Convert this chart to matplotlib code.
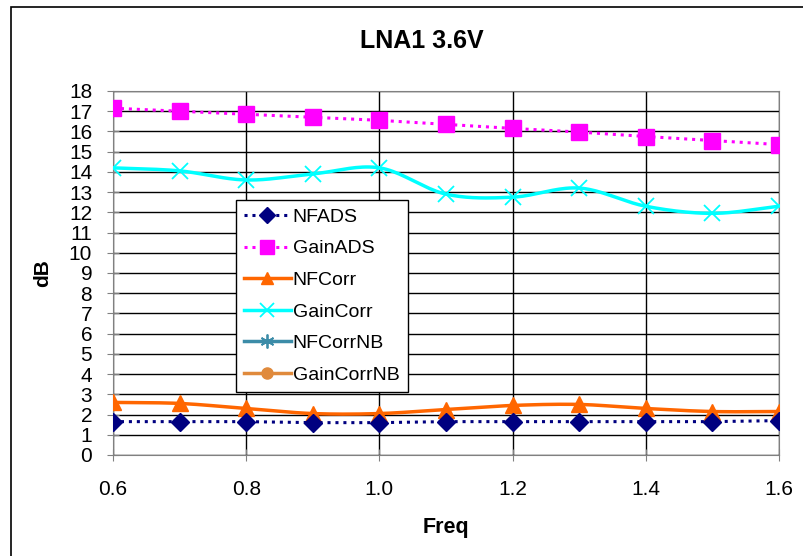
import numpy as np
import matplotlib
matplotlib.use("Agg")
import matplotlib.pyplot as plt
from matplotlib.patches import Rectangle

plt.rcParams['font.family'] = ['Liberation Sans', 'DejaVu Sans']

freq = [0.6, 0.7, 0.8, 0.9, 1.0, 1.1, 1.2, 1.3, 1.4, 1.5, 1.6]
nf_ads = [1.65, 1.65, 1.65, 1.6, 1.6, 1.65, 1.65, 1.65, 1.65, 1.65, 1.7]
gain_ads = [17.15, 17.0, 16.85, 16.7, 16.55, 16.35, 16.15, 15.97, 15.75, 15.55, 15.35]
nf_corr = [2.6, 2.55, 2.3, 2.05, 2.05, 2.25, 2.45, 2.5, 2.3, 2.15, 2.15]
gain_corr = [14.2, 14.05, 13.6, 13.9, 14.2, 12.9, 12.75, 13.2, 12.3, 11.95, 12.3]
xticks = [0.6, 0.8, 1.0, 1.2, 1.4, 1.6]
xticklabels = ["0.6", "0.8", "1.0", "1.2", "1.4", "1.6"]
yticks = list(range(0, 19))


def smooth(x, y, n=20):
    # Catmull-Rom rendering of the line through the data points (Excel-like smoothing)
    x = np.asarray(x, float); y = np.asarray(y, float)
    px = np.concatenate([[2 * x[0] - x[1]], x, [2 * x[-1] - x[-2]]])
    py = np.concatenate([[2 * y[0] - y[1]], y, [2 * y[-1] - y[-2]]])
    xs, ys = [], []
    t = np.linspace(0, 1, n, endpoint=False)
    for i in range(1, len(px) - 2):
        for P, out in ((px, xs), (py, ys)):
            p0, p1, p2, p3 = P[i - 1], P[i], P[i + 1], P[i + 2]
            out.extend(0.5 * ((2 * p1) + (-p0 + p2) * t + (2 * p0 - 5 * p1 + 4 * p2 - p3) * t ** 2
                              + (-p0 + 3 * p1 - 3 * p2 + p3) * t ** 3))
    xs.append(x[-1]); ys.append(y[-1])
    return np.array(xs), np.array(ys)


fig = plt.figure(figsize=(8.04, 5.56), dpi=100)
fig.patches.append(Rectangle((11 / 804, -0.1), 1.2, 1 - 7 / 556 + 0.1, transform=fig.transFigure,
                             fill=False, edgecolor='black', linewidth=1.2))
L, R, T, B = 113, 779, 91, 455
ax = fig.add_axes([L / 804, 1 - B / 556, (R - L) / 804, (B - T) / 556])

navy = '#000080'
mag = '#FF00FF'
orange = '#FF6600'
cyan = '#00FFFF'
teal = '#3C8CA8'
lorange = '#E08A3C'

ax.plot(freq, nf_ads, color=navy, linestyle=(0, (1, 1.6)), linewidth=2.2, marker='D',
        markersize=9, markerfacecolor=navy, markeredgecolor=navy, zorder=5)
ax.plot(freq, gain_ads, color=mag, linestyle=(0, (1, 1.6)), linewidth=2.2, marker='s',
        markersize=12, markerfacecolor=mag, markeredgecolor=mag, zorder=5)
sx, sy = smooth(freq, nf_corr)
ax.plot(sx, sy, color=orange, linewidth=2.5, zorder=4)
ax.plot(freq, nf_corr, color=orange, linestyle='none', marker='^', markersize=11, zorder=4)
sx, sy = smooth(freq, gain_corr)
ax.plot(sx, sy, color=cyan, linewidth=2.5, zorder=4)
ax.plot(freq, gain_corr, color=cyan, linestyle='none', marker='x', markersize=12,
        markeredgewidth=1.3, zorder=4)

# legend handles
h_nfads = plt.Line2D([], [], color=navy, linestyle=(0, (1, 1.6)), linewidth=2.2, marker='D', markersize=8)
h_gainads = plt.Line2D([], [], color=mag, linestyle=(0, (1, 1.6)), linewidth=2.2, marker='s', markersize=10)
h_nfcorr = plt.Line2D([], [], color=orange, linewidth=2.5, marker='^', markersize=9)
h_gaincorr = plt.Line2D([], [], color=cyan, linewidth=2.5, marker='x', markersize=10, markeredgewidth=1.3)
h_nfcorrnb = plt.Line2D([], [], color=teal, linewidth=2.5, marker=(6, 2, 0), markersize=10, markeredgewidth=1.3)
h_gaincorrnb = plt.Line2D([], [], color=lorange, linewidth=2.5, marker='o', markersize=8)
leg = ax.legend([h_nfads, h_gainads, h_nfcorr, h_gaincorr, h_nfcorrnb, h_gaincorrnb],
                ['NFADS', 'GainADS', 'NFCorr', 'GainCorr', 'NFCorrNB', 'GainCorrNB'],
                loc='upper left', bbox_to_anchor=((236 - L) / (R - L), (B - 200) / (B - T)),
                fancybox=False, framealpha=1, edgecolor='black', fontsize=14,
                handlelength=2.4, handletextpad=0.1, labelspacing=0.72, borderpad=0.42,
                borderaxespad=0)
leg.get_frame().set_linewidth(1.0)
leg.set_zorder(10)

ax.set_xlim(0.6, 1.6)
ax.set_ylim(0, 18)
ax.set_xticks(xticks)
ax.set_xticklabels(xticklabels)
ax.set_yticks(yticks)
ax.grid(True, color='black', linewidth=1.0)
ax.set_axisbelow(True)
for s in ['top', 'right', 'left', 'bottom']:
    ax.spines[s].set_color('#808080')
ax.tick_params(axis='both', labelsize=15, direction='inout', length=8, color='#808080')
ax.tick_params(axis='x', pad=14)
ax.tick_params(axis='y', pad=11)
ax.set_xlabel('Freq', fontsize=15.5, fontweight='bold', labelpad=13)
ax.set_ylabel('dB', fontsize=15, fontweight='bold', labelpad=12)
fig.text(422 / 804, 1 - 41 / 556, 'LNA1 3.6V', ha='center', va='center', fontsize=18, fontweight='bold')

fig.savefig('out.png', dpi=100)
